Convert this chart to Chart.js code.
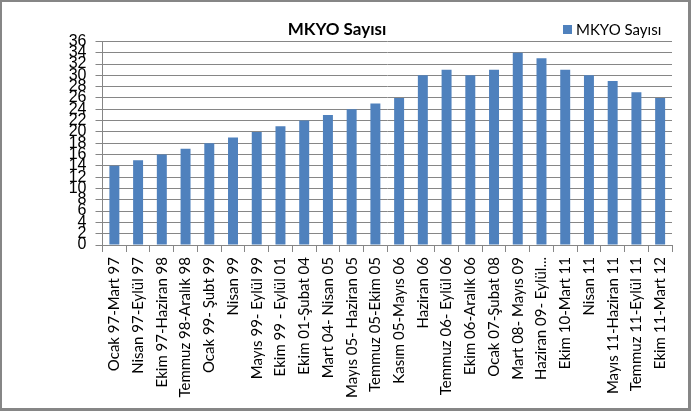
<!DOCTYPE html>
<html>
<head>
<meta charset="utf-8">
<script src="https://cdn.jsdelivr.net/npm/chart.js@4.4.1/dist/chart.umd.min.js"></script>
<style>
  html, body { margin: 0; padding: 0; background: #fff; }
  #wrap {
    width: 691px; height: 411px; box-sizing: border-box;
    border-style: solid; border-color: #868686;
    border-width: 2px 3px 3px 2px;
  }
  canvas { display: block; }
</style>
</head>
<body>
<div id="wrap"><canvas id="chart" width="686" height="406"></canvas></div>
<script>
  const categories = [
    "Ocak 97-Mart 97", "Nisan 97-Eylül 97", "Ekim 97-Haziran 98",
    "Temmuz 98-Aralık 98", "Ocak 99- Şubt 99", "Nisan 99",
    "Mayıs 99- Eylül 99", "Ekim 99 - Eylül 01", "Ekim 01-Şubat 04",
    "Mart 04- Nisan 05", "Mayıs 05- Haziran 05", "Temmuz 05-Ekim 05",
    "Kasım 05-Mayıs 06", "Haziran 06", "Temmuz 06- Eylül 06",
    "Ekim 06-Aralık 06", "Ocak 07-Şubat 08", "Mart 08- Mayıs 09",
    "Haziran 09- Eylül...", "Ekim 10-Mart 11", "Nisan 11",
    "Mayıs 11-Haziran 11", "Temmuz 11-Eylül 11", "Ekim 11-Mart 12"
  ];
  const mkyoCounts = [14, 15, 16, 17, 18, 19, 20, 21, 22, 23, 24, 25, 26,
                      30, 31, 30, 31, 34, 33, 31, 30, 29, 27, 26];
  const seriesName = "MKYO Sayısı";
  const yMin = 0, yMax = 36, yStep = 2;

  const BAR = "#4F81BD";
  const GRID = "#868686";

  // Excel-style legend sitting to the right of the title
  const legendPlugin = {
    id: "sideLegend",
    afterDraw(chart) {
      const ctx = chart.ctx;
      ctx.save();
      ctx.fillStyle = BAR;
      ctx.fillRect(561, 23, 9, 9);
      ctx.fillStyle = "#000";
      ctx.font = "15px Lato";
      ctx.textBaseline = "alphabetic";
      ctx.textAlign = "left";
      ctx.fillText(seriesName, 574, 33);
      ctx.restore();
    }
  };

  new Chart(document.getElementById("chart"), {
    type: "bar",
    data: {
      labels: categories,
      datasets: [{
        label: seriesName,
        data: mkyoCounts,
        backgroundColor: BAR,
        borderWidth: 0,
        barPercentage: 0.42,
        categoryPercentage: 1.0,
      }],
    },
    options: {
      responsive: false,
      animation: false,
      layout: { padding: { left: 0, right: 16, top: 0, bottom: 0 } },
      plugins: {
        legend: { display: false },
        tooltip: { enabled: false },
        title: {
          display: true,
          text: seriesName,
          color: "#000",
          font: { family: "Lato", size: 17, weight: "bold", lineHeight: 1.2 },
          padding: { top: 17, bottom: 2 },
        },
      },
      scales: {
        x: {
          afterFit(s) { s.height = 163; },
          grid: {
            drawOnChartArea: false,
            drawTicks: true,
            tickLength: 7,
            color: GRID,
          },
          border: { color: GRID },
          ticks: {
            color: "#000",
            font: { family: "Lato", size: 15 },
            minRotation: 90,
            maxRotation: 90,
            autoSkip: false,
            padding: 5,
          },
        },
        y: {
          min: yMin,
          max: yMax,
          afterFit(s) { s.width = 100.5; },
          grid: { color: GRID, tickLength: 7 },
          border: { color: GRID },
          ticks: {
            stepSize: yStep,
            autoSkip: false,
            color: "#000",
            font: { family: "'Liberation Sans Narrow', 'Liberation Sans'", size: 16 },
            padding: 9,
          },
        },
      },
    },
    plugins: [legendPlugin],
  });
</script>
</body>
</html>
